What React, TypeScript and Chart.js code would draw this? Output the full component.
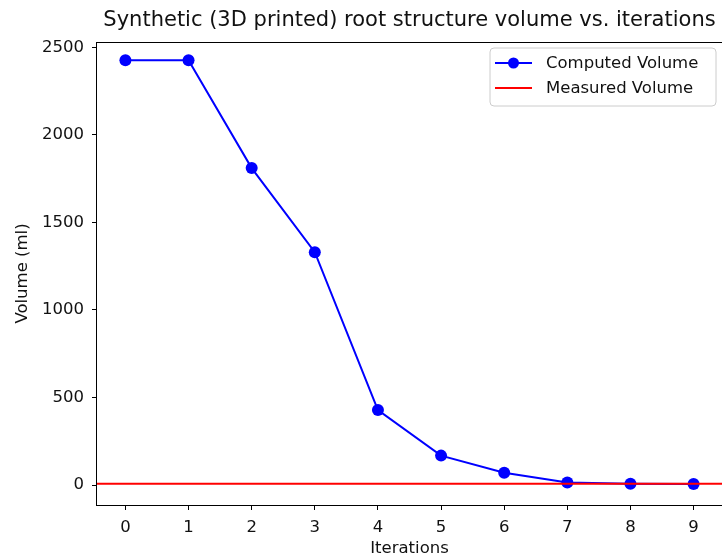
import React, { useEffect, useRef } from "react";
import { Chart, registerables } from "chart.js";

Chart.register(...registerables);

const TITLE = "Synthetic (3D printed) root structure volume vs. iterations";
const X_LABEL = "Iterations";
const Y_LABEL = "Volume (ml)";
const iterations = [0, 1, 2, 3, 4, 5, 6, 7, 8, 9];
const computedVolume = [2426, 2426, 1810, 1330, 428, 168, 70, 14, 8, 6];
const measuredVolume = 8;
const xTicks = [0, 1, 2, 3, 4, 5, 6, 7, 8, 9];
const yTicks = [0, 500, 1000, 1500, 2000, 2500];
const X_MIN = -0.45;
const X_MAX = 9.45;
const Y_MIN = -114;
const Y_MAX = 2530;
const SERIES_LABELS = ["Computed Volume", "Measured Volume"];

const FONT = "'DejaVu Sans', sans-serif";
const TEXT = "#111";
const FS = 16.5;

const framePlugin = {
  id: "frameAndExtras",
  afterDatasetsDraw(chart: any) {
    const { ctx, chartArea } = chart;
    const { left, right, top, bottom } = chartArea;
    ctx.save();
    // frame (right spine falls just beyond the canvas edge, as in the reference)
    ctx.strokeStyle = "#000";
    ctx.lineWidth = 1;
    ctx.strokeRect(Math.round(left) - 0.5, Math.round(top) + 0.5, Math.round(right - left) + 2, Math.round(bottom - top));
    // title
    ctx.fillStyle = TEXT;
    ctx.font = `21px ${FONT}`;
    ctx.textAlign = "center";
    ctx.textBaseline = "middle";
    ctx.fillText(TITLE, (left + right) / 2, 21);
    // legend
    const bx = 490, by = 48, bw = 226, bh = 58;
    ctx.beginPath();
    const r = 4;
    ctx.moveTo(bx + r, by);
    ctx.lineTo(bx + bw - r, by);
    ctx.quadraticCurveTo(bx + bw, by, bx + bw, by + r);
    ctx.lineTo(bx + bw, by + bh - r);
    ctx.quadraticCurveTo(bx + bw, by + bh, bx + bw - r, by + bh);
    ctx.lineTo(bx + r, by + bh);
    ctx.quadraticCurveTo(bx, by + bh, bx, by + bh - r);
    ctx.lineTo(bx, by + r);
    ctx.quadraticCurveTo(bx, by, bx + r, by);
    ctx.closePath();
    ctx.fillStyle = "rgba(255,255,255,0.8)";
    ctx.fill();
    ctx.strokeStyle = "#cccccc";
    ctx.lineWidth = 1;
    ctx.stroke();
    const y1 = 63, y2 = 88;
    ctx.strokeStyle = "#0000ff";
    ctx.lineWidth = 2;
    ctx.beginPath();
    ctx.moveTo(495, y1);
    ctx.lineTo(532, y1);
    ctx.stroke();
    ctx.fillStyle = "#0000ff";
    ctx.beginPath();
    ctx.arc(513.5, y1, 5.5, 0, Math.PI * 2);
    ctx.fill();
    ctx.strokeStyle = "#ff0000";
    ctx.beginPath();
    ctx.moveTo(495, y2);
    ctx.lineTo(532, y2);
    ctx.stroke();
    ctx.fillStyle = TEXT;
    ctx.font = `${FS}px ${FONT}`;
    ctx.textAlign = "left";
    ctx.textBaseline = "middle";
    ctx.fillText(SERIES_LABELS[0], 546, y1 + 1);
    ctx.fillText(SERIES_LABELS[1], 546, y2 + 1);
    ctx.restore();
  },
};

export default function App() {
  const ref = useRef<HTMLCanvasElement>(null);
  useEffect(() => {
    if (!ref.current) return;
    const chart = new Chart(ref.current, {
      type: "line",
      data: {
        datasets: [
          {
            label: SERIES_LABELS[1],
            data: [
              { x: X_MIN, y: measuredVolume },
              { x: X_MAX, y: measuredVolume },
            ],
            borderColor: "#ff0000",
            backgroundColor: "#ff0000",
            borderWidth: 2,
            pointRadius: 0,
            order: 0,
          },
          {
            label: SERIES_LABELS[0],
            data: iterations.map((x, i) => ({ x, y: computedVolume[i] })),
            borderColor: "#0000ff",
            backgroundColor: "#0000ff",
            borderWidth: 2,
            pointRadius: 6,
            pointBorderWidth: 0,
            pointBackgroundColor: "#0000ff",
            tension: 0,
            order: 1,
          },
        ],
      },
      options: {
        animation: false,
        responsive: false,
        maintainAspectRatio: false,
        events: [],
        layout: { autoPadding: false, padding: { top: 42, right: 0, left: 0, bottom: 0 } },
        plugins: { legend: { display: false }, title: { display: false }, tooltip: { enabled: false } },
        scales: {
          x: {
            type: "linear",
            min: X_MIN,
            max: X_MAX,
            afterBuildTicks: (s: any) => {
              s.ticks = xTicks.map((v) => ({ value: v }));
            },
            afterFit: (s: any) => {
              s.height = 55;
              s.paddingLeft = 0;
              s.paddingRight = 0;
            },
            grid: { display: true, drawOnChartArea: false, drawTicks: true, tickLength: 5, color: "#000", lineWidth: 1 },
            border: { display: false },
            ticks: { color: TEXT, font: { family: FONT, size: FS }, padding: 8, maxRotation: 0, callback: (v: any) => String(v) },
            title: { display: true, text: X_LABEL, color: TEXT, font: { family: FONT, size: FS }, padding: { top: 0, bottom: 1.5 } },
          },
          y: {
            type: "linear",
            min: Y_MIN,
            max: Y_MAX,
            afterBuildTicks: (s: any) => {
              s.ticks = yTicks.map((v) => ({ value: v }));
            },
            afterFit: (s: any) => {
              s.width = 97;
              s.paddingTop = 0;
              s.paddingBottom = 0;
            },
            grid: { display: true, drawOnChartArea: false, drawTicks: true, tickLength: 5, color: "#000", lineWidth: 1 },
            border: { display: false },
            ticks: { color: TEXT, font: { family: FONT, size: FS }, padding: 8, callback: (v: any) => String(v) },
            title: { display: true, text: Y_LABEL, color: TEXT, font: { family: FONT, size: FS }, padding: { top: 13, bottom: 0 } },
          },
        },
      },
      plugins: [framePlugin],
    });
    return () => chart.destroy();
  }, []);
  return (
    <div style={{ position: "fixed", left: 0, top: 0, width: 722, height: 560, background: "#fff" }}>
      <canvas ref={ref} width={722} height={560} style={{ width: 722, height: 560, display: "block" }} />
    </div>
  );
}
